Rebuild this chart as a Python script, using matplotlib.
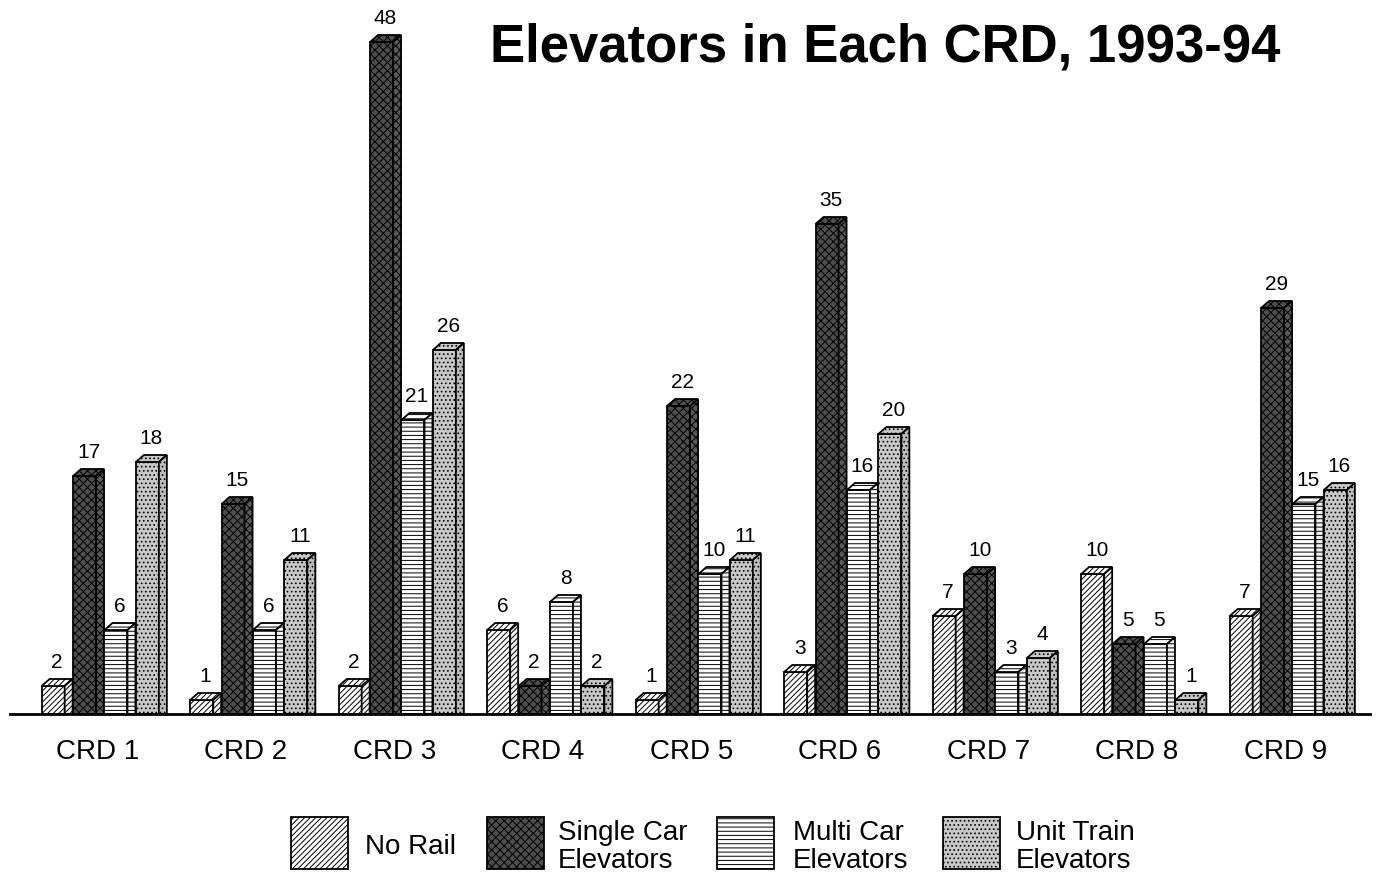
import matplotlib
matplotlib.use("Agg")
import matplotlib.pyplot as plt
from matplotlib.patches import Polygon, Rectangle
import numpy as np

categories = ["CRD 1", "CRD 2", "CRD 3", "CRD 4", "CRD 5", "CRD 6", "CRD 7", "CRD 8", "CRD 9"]
no_rail = [2, 1, 2, 6, 1, 3, 7, 10, 7]
single_car = [17, 15, 48, 2, 22, 35, 10, 5, 29]
multi_car = [6, 6, 21, 8, 10, 16, 3, 5, 15]
unit_train = [18, 11, 26, 2, 11, 20, 4, 1, 16]
series_names = ["No Rail", "Single Car\nElevators", "Multi Car\nElevators", "Unit Train\nElevators"]
title = "Elevators in Each CRD, 1993-94"

plt.rcParams['font.family'] = ['Liberation Sans', 'DejaVu Sans']
plt.rcParams['hatch.linewidth'] = 0.7

styles = [
    dict(face="white", side="#f0f0f0", hatch="//////"),
    dict(face="#4e4e4e", side="#5a5a5a", hatch="xxxx"),
    dict(face="white", side="#f4f4f4", hatch="----"),
    dict(face="#c8c8c8", side="#bdbdbd", hatch="...."),
]

W, H = 1393, 878
fig = plt.figure(figsize=(W / 100, H / 100), dpi=100)
ax_left, ax_right = 10, 1370
ax_bottom, ax_top = 715, 15
ax = fig.add_axes([ax_left / W, (H - ax_bottom) / H, (ax_right - ax_left) / W, (ax_bottom - ax_top) / H])

px_per_unit_y = 14.0
group_px = 148.5
first_center = 97.5
ax.set_xlim((ax_left - first_center) / group_px, (ax_right - first_center) / group_px)
ax.set_ylim(0, (ax_bottom - ax_top) / px_per_unit_y)

width = 23 / group_px
dx = 8 / group_px
dy = 7 / px_per_unit_y
pitch = 31.4 / group_px
start = -0.376

x = np.arange(len(categories))
all_series = [no_rail, single_car, multi_car, unit_train]
for k, (vals, st) in enumerate(zip(all_series, styles)):
    lefts = x + start + k * pitch
    ax.bar(lefts, vals, width=width, align='edge', facecolor=st["face"],
           edgecolor="black", hatch=st["hatch"], linewidth=1.3, zorder=3)
    for x0, h in zip(lefts, vals):
        top = Polygon([(x0, h), (x0 + width, h), (x0 + width + dx, h + dy), (x0 + dx, h + dy)],
                      closed=True, facecolor=st["face"], edgecolor="black",
                      hatch=st["hatch"], linewidth=1.3, zorder=3)
        side = Polygon([(x0 + width, 0), (x0 + width + dx, 0), (x0 + width + dx, h + dy), (x0 + width, h)],
                       closed=True, facecolor=st["side"], edgecolor="black",
                       hatch=st["hatch"], linewidth=1.3, zorder=3)
        ax.add_patch(top)
        ax.add_patch(side)
        ax.text(x0 + (width + dx) / 2, h + 1.05, str(h), ha='center', va='bottom',
                fontsize=15, zorder=4)

for s in ["top", "right", "left"]:
    ax.spines[s].set_visible(False)
ax.spines["bottom"].set_linewidth(2)
ax.spines["bottom"].set_zorder(5)
ax.set_yticks([])
ax.set_xticks(x)
ax.set_xticklabels(categories, fontsize=20)
ax.tick_params(axis='x', length=0, pad=17)
ax.patch.set_visible(False)

fig.text(885 / W, 1 - 47 / H, title, ha='center', va='center', fontsize=38, fontweight='bold')

# legend
legend_patch_x = [291, 487, 717, 943]
legend_text_x = [365, 558, 793, 1016]
for k, st in enumerate(styles):
    px0 = legend_patch_x[k]
    r = Rectangle((px0 / W, 1 - 870 / H), 57 / W, 52 / H, transform=fig.transFigure,
                  facecolor=st["face"], edgecolor="black", hatch=st["hatch"], linewidth=1.3)
    fig.add_artist(r)
    fig.text(legend_text_x[k] / W, 1 - 847 / H, series_names[k], ha='left', va='center',
             fontsize=20, linespacing=1.12)

fig.savefig("out.png", dpi=100)
